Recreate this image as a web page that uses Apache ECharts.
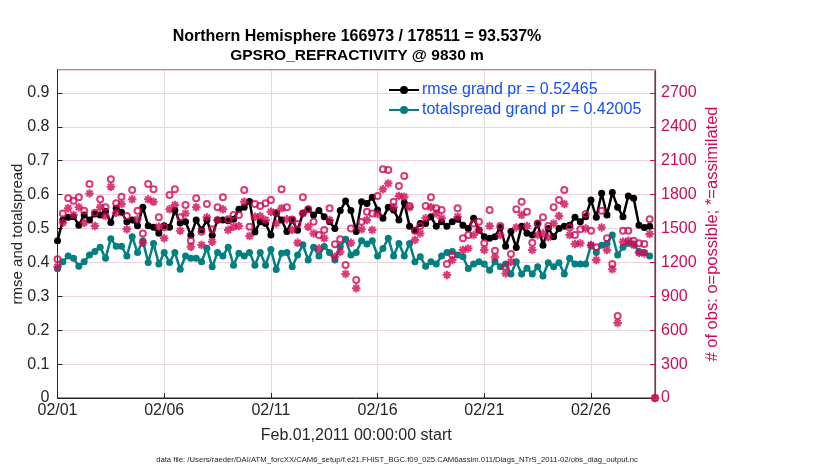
<!DOCTYPE html>
<html>
<head>
<meta charset="utf-8">
<script src="https://cdn.jsdelivr.net/npm/echarts@6/dist/echarts.min.js"></script>
<style>
  html, body { margin: 0; padding: 0; background: #fff; }
  #chart { width: 830px; height: 470px; }
</style>
</head>
<body>
<div id="chart"></div>
<script>
// 6-hourly analysis times, counted in days from 02/01 00:00
const obsStepDays = 0.25;

const rmse = [
  0.464, 0.525, 0.533, 0.535, 0.51, 0.54, 0.525, 0.543, 0.54, 0.55,
  0.518, 0.56, 0.548, 0.52, 0.525, 0.508, 0.563, 0.508, 0.504, 0.486,
  0.508, 0.504, 0.553, 0.516, 0.52, 0.48, 0.525, 0.496, 0.525, 0.48,
  0.525, 0.525, 0.523, 0.527, 0.557, 0.563, 0.58, 0.49,
  0.52, 0.515, 0.481, 0.545, 0.525, 0.491, 0.525, 0.495, 0.545, 0.557,
  0.54, 0.553, 0.535, 0.52, 0.50, 0.553, 0.581, 0.553, 0.491, 0.579,
  0.574, 0.592, 0.555, 0.53, 0.563, 0.555, 0.525, 0.576, 0.507, 0.495,
  0.515, 0.515, 0.535, 0.507, 0.52, 0.507, 0.52, 0.527,
  0.51, 0.50, 0.53, 0.495, 0.476, 0.471, 0.476, 0.503, 0.448, 0.491,
  0.444, 0.507, 0.486, 0.481, 0.515, 0.451, 0.50, 0.476, 0.50, 0.507,
  0.51, 0.533, 0.52, 0.535, 0.584, 0.533, 0.604, 0.54, 0.606, 0.563,
  0.535, 0.596, 0.589, 0.51, 0.503, 0.507,
  null
];

const totalspread = [
  0.381, 0.402, 0.419, 0.412, 0.389, 0.402, 0.422, 0.432, 0.445, 0.412,
  0.470, 0.448, 0.448, 0.419, 0.476, 0.429, 0.464, 0.400, 0.456, 0.395,
  0.429, 0.400, 0.429, 0.380, 0.419, 0.412, 0.412, 0.402, 0.442, 0.387,
  0.429, 0.419, 0.445, 0.392, 0.427, 0.419, 0.429, 0.392,
  0.429, 0.392, 0.438, 0.379, 0.427, 0.429, 0.387, 0.422, 0.452, 0.407,
  0.445, 0.419, 0.447, 0.429, 0.407, 0.447, 0.468, 0.422, 0.429, 0.464,
  0.454, 0.464, 0.419, 0.441, 0.471, 0.419, 0.456, 0.419, 0.456, 0.402,
  0.417, 0.389, 0.402, 0.395, 0.419, 0.429, 0.432, 0.422,
  0.417, 0.382, 0.395, 0.402, 0.395, 0.377, 0.402, 0.387, 0.395, 0.366,
  0.402, 0.366, 0.383, 0.366, 0.387, 0.360, 0.399, 0.387, 0.399, 0.366,
  0.412, 0.395, 0.395, 0.395, 0.451, 0.429, 0.451, 0.456, 0.481, 0.422,
  0.445, 0.456, 0.454, 0.432, 0.429, 0.419,
  null
];

const nPossible = [
  1227, 1634, 1767, 1746, 1776, 1658, 1894, 1640, 1758, 1688,
  1935, 1723, 1782, 1611, 1841, 1658, 1457, 1894, 1847, 1599,
  1511, 1797, 1847, 1599, 1708, 1392, 1767, 1472, 1717, 1493,
  1688, 1776, 1581, 1620, 1620, 1841, 1516, 1717,
  1700, 1723, 1753, 1640, 1847, 1688, 1580, 1540, 1776, 1670,
  1560, 1442, 1487, 1679, 1360, 1404, 1177, 1501, 1044, 1560,
  1649, 1634, 1788, 2024, 2018, 1738, 1876, 1965, 1700, 1481,
  1522, 1699, 1776, 1679, 1664, 1186, 1266, 1679,
  1413, 1442, 1545, 1560, 1369, 1664, 1304, 1522, 1162, 1274,
  1670, 1738, 1649, 1375, 1545, 1599, 1522, 1688, 1753, 1841,
  1510, 1442, 1493, 1628, 1481, 1334, 1658, 1413, 1186, 726,
  1481, 1481, 1392, 1369, 1363, 1581,
  0
];

const nAssimilated = [
  1162, 1551, 1679, 1620, 1688, 1551, 1811, 1522, 1688, 1611,
  1870, 1640, 1717, 1493, 1758, 1581, 1375, 1758, 1737, 1516,
  1413, 1670, 1708, 1481, 1634, 1339, 1688, 1354, 1599, 1383,
  1575, 1670, 1487, 1516, 1522, 1737, 1434, 1605,
  1610, 1575, 1649, 1545, 1679, 1581, 1487, 1375, 1634, 1516,
  1457, 1324, 1413, 1575, 1251, 1295, 1098, 1375, 971, 1493,
  1575, 1487, 1628, 1847, 1899, 1688, 1788, 1782, 1688, 1398,
  1457, 1590, 1688, 1634, 1590, 1089, 1221, 1605,
  1310, 1324, 1442, 1487, 1310, 1522, 1245, 1442, 1103, 1206,
  1510, 1620, 1522, 1310, 1442, 1457, 1422, 1545, 1611, 1717,
  1442, 1363, 1369, 1501, 1354, 1221, 1510, 1310, 1139, 664,
  1383, 1392, 1354, 1286, 1280, 1452,
  0
];

const titleLines = [
  "Northern Hemisphere 166973 / 178511 = 93.537%",
  "GPSRO_REFRACTIVITY @ 9830 m"
];
const rmseLabel = "rmse grand pr = 0.52465";
const spreadLabel = "totalspread grand pr = 0.42005";
const dataFile = "data file: /Users/raeder/DAI/ATM_forcXX/CAM6_setup/f.e21.FHIST_BGC.f09_025.CAM6assim.011/Diags_NTrS_2011-02/obs_diag_output.nc";

const countMax = 2903;          // right axis top
const rmseMax = countMax / 3000; // left axis top, ticks line up with the right axis

const MAGENTA = "#d10a56";
const TEAL = "#008080";
const FONT = "Liberation Sans, Arial, Helvetica, sans-serif";

const toPairs = arr => arr.map((v, i) => [i * obsStepDays, v]);

const fmtDay = d => {
  const t = new Date(2011, 1, 1 + d);
  const mm = String(t.getMonth() + 1).padStart(2, "0");
  const dd = String(t.getDate()).padStart(2, "0");
  return mm + "/" + dd;
};

const asterisk = "path://M0,-5L0,5M-5,0L5,0M-3.5,-3.5L3.5,3.5M-3.5,3.5L3.5,-3.5";

const chart = echarts.init(document.getElementById("chart"));

chart.setOption({
  animation: false,
  backgroundColor: "#fff",
  textStyle: { fontFamily: FONT },
  grid: {
    left: 57.5, right: 175, top: 70, bottom: 72,
    outerBoundsMode: "none", containLabel: false,
    show: true, borderColor: "#262626", borderWidth: 1
  },
  graphic: [
    {
      type: "text", x: 357, y: 37,
      style: { text: titleLines[0], font: "bold 16px " + FONT, fill: "#000", align: "center", verticalAlign: "middle" }
    },
    {
      type: "text", x: 357, y: 56,
      style: { text: titleLines[1], font: "bold 15.5px " + FONT, fill: "#000", align: "center", verticalAlign: "middle" }
    },
    {
      type: "text", x: 397, y: 460,
      style: { text: dataFile, font: "7.7px " + FONT, fill: "#222", align: "center", verticalAlign: "middle" }
    }
  ],
  legend: {
    orient: "vertical",
    left: 388, top: 82, padding: 0,
    itemWidth: 30, itemHeight: 10, itemGap: 4,
    data: ["rmse", "totalspread"],
    formatter: name => (name === "rmse" ? rmseLabel : spreadLabel),
    textStyle: { color: "#1550f0", fontSize: 16, fontFamily: FONT, padding: [0, 0, 0, -2] }
  },
  xAxis: {
    type: "value",
    min: 0, max: 28, interval: 5,
    name: "Feb.01,2011 00:00:00 start",
    nameLocation: "middle", nameGap: 30, nameMoveOverlap: false,
    nameTextStyle: { color: "#262626", fontSize: 16 },
    axisLine: { lineStyle: { color: "#262626", width: 1 } },
    axisTick: { inside: true, length: 5, lineStyle: { color: "#262626" } },
    axisLabel: { color: "#262626", fontSize: 16, margin: 5, showMaxLabel: false, formatter: fmtDay },
    splitLine: { show: true, lineStyle: { color: "#dcdcdc", width: 1 } }
  },
  yAxis: [
    {
      type: "value",
      min: 0, max: rmseMax, interval: 0.1,
      name: "rmse and totalspread",
      nameLocation: "middle", nameGap: 32, nameRotate: 90, nameMoveOverlap: false,
      nameTextStyle: { color: "#262626", fontSize: 15 },
      axisLine: { show: true, lineStyle: { color: "#262626", width: 1 } },
      axisTick: { show: true, inside: true, length: 5, lineStyle: { color: "#262626" } },
      axisLabel: {
        color: "#262626", fontSize: 16, margin: 8, showMaxLabel: false,
        formatter: v => String(+v.toFixed(1))
      },
      splitLine: { show: false }
    },
    {
      type: "value",
      position: "right",
      min: 0, max: countMax, interval: 300,
      name: "# of obs: o=possible; *=assimilated",
      nameLocation: "middle", nameGap: 49, nameRotate: 90, nameMoveOverlap: false,
      nameTextStyle: { color: MAGENTA, fontSize: 16.5 },
      axisLine: { show: true, lineStyle: { color: MAGENTA, width: 1.2 } },
      axisTick: { show: true, inside: true, length: 5, lineStyle: { color: MAGENTA } },
      axisLabel: { color: MAGENTA, fontSize: 16, margin: 6, showMaxLabel: false, formatter: v => String(v) },
      splitLine: { show: true, lineStyle: { color: "#f1d3df", width: 1 } }
    }
  ],
  series: [
    {
      name: "totalspread",
      type: "line",
      data: toPairs(totalspread),
      yAxisIndex: 0,
      symbol: "circle", symbolSize: 7,
      lineStyle: { color: TEAL, width: 2.5 },
      itemStyle: { color: TEAL },
      z: 3
    },
    {
      name: "rmse",
      type: "line",
      data: toPairs(rmse),
      yAxisIndex: 0,
      symbol: "circle", symbolSize: 7,
      lineStyle: { color: "#000", width: 2.5 },
      itemStyle: { color: "#000" },
      z: 4
    },
    {
      name: "possible",
      type: "scatter",
      data: toPairs(nPossible),
      yAxisIndex: 1,
      symbol: "circle", symbolSize: 6,
      clip: false,
      itemStyle: { color: "rgba(255,255,255,0)", borderColor: MAGENTA, borderWidth: 2 },
      z: 5
    },
    {
      name: "assimilated",
      type: "scatter",
      data: toPairs(nAssimilated),
      yAxisIndex: 1,
      symbol: asterisk, symbolSize: 8.5,
      clip: false,
      itemStyle: { color: "rgba(255,255,255,0)", borderColor: MAGENTA, borderWidth: 2 },
      z: 5
    }
  ]
});
</script>
</body>
</html>
